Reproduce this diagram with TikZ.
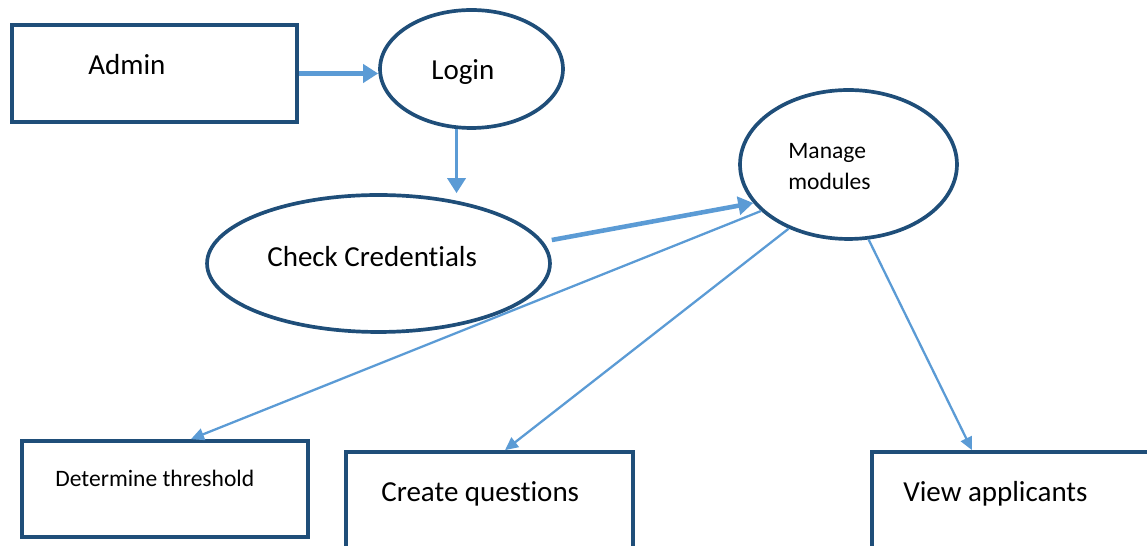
\documentclass[tikz,border=0pt]{standalone}
\usepackage{fontspec}
\setmainfont{Carlito}[Ligatures=NoCommon]
\usetikzlibrary{arrows.meta,shapes.geometric}
\definecolor{dfdark}{HTML}{1F4E79}
\definecolor{dflight}{HTML}{5B9BD5}

\begin{document}
\begin{tikzpicture}[x=0.02cm,y=-0.02cm,
  every node/.style={inner sep=0pt},
  box/.style={draw=dfdark,line width=2.1pt,rectangle},
  proc/.style={draw=dfdark,line width=2.1pt,ellipse},
  big/.style={font=\fontsize{16.5}{20}\selectfont,anchor=base west},
  small/.style={font=\fontsize{13.4}{18.1}\selectfont,anchor=base west,align=left},
  flow/.style={draw=dflight,line width=2.6pt,-{Triangle[length=0.3cm,width=0.36cm]}},
  link/.style={draw=dflight,line width=1.3pt,-{Triangle[length=0.26cm,width=0.24cm]}}]
\useasboundingbox (0,0) rectangle (1147,546);
\clip (0,0) rectangle (1147,546);

% entities and processes
\node[box,minimum width=5.7cm,minimum height=1.94cm] (admin) at (154.5,73.5) {};
\node[proc,minimum width=3.66cm,minimum height=2.36cm] (login) at (471.5,69) {};
\node[proc,minimum width=6.86cm,minimum height=2.74cm] (check) at (378.5,263.5) {};
\node[proc,minimum width=4.34cm,minimum height=2.98cm] (manage) at (848.5,164.5) {};
\node[box,minimum width=5.72cm,minimum height=1.92cm] (thresh) at (165,489) {};
\node[box,minimum width=5.74cm,minimum height=2cm] (quest) at (489.5,502) {};
\node[box,minimum width=5.76cm,minimum height=2cm] (appl) at (1016,502) {};

% labels (base of a two-line label is its last line)
\node[big] (admin-lbl) at (88,75) {Admin};
\node[big] (login-lbl) at (431,80) {Login};
\node[big] (check-lbl) at (267,267) {Check Credentials};
\node[small] (manage-lbl) at (788,190) {Manage\\modules};
\node[small] (thresh-lbl) at (55,487) {Determine threshold};
\node[big] (quest-lbl) at (381,502) {Create questions};
\node[big] (appl-lbl) at (903,502) {View applicants};

% flows
\draw[flow] (admin.east) -- (admin.east -| login.west);
\draw[flow,line width=2pt] (login.256) -- (login.256 |- check.north);
\draw[flow] ([yshift=0.47cm]check.east) -- (manage.202);
\draw[link] (manage.208) -- ([xshift=0.52cm]thresh.north);
\draw[link] (manage.227) -- ([xshift=0.31cm]quest.north);
\draw[link] (manage.285) -- ([xshift=-0.88cm]appl.north);
\end{tikzpicture}
\end{document}
